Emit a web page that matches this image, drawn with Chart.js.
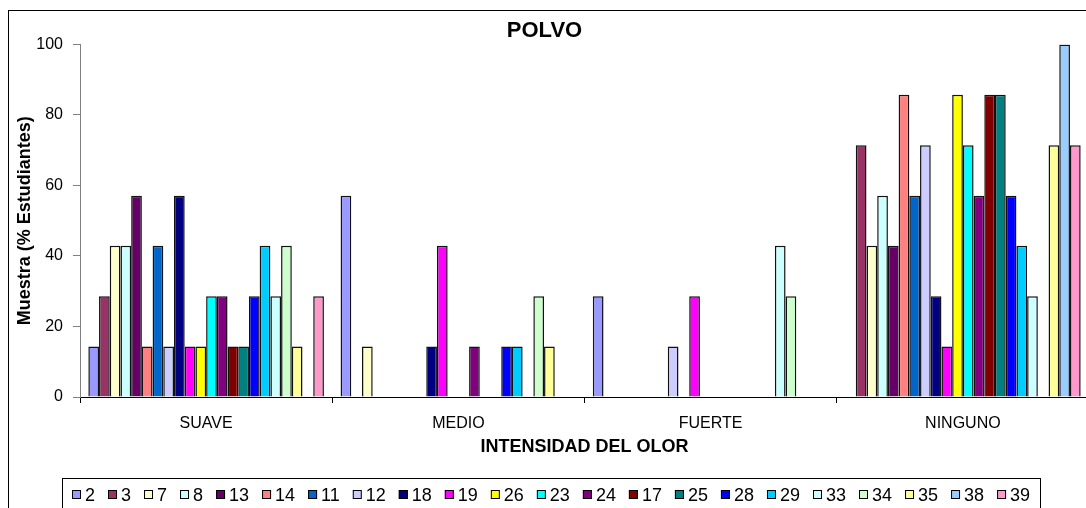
<!DOCTYPE html>
<html>
<head>
<meta charset="utf-8">
<script src="https://cdn.jsdelivr.net/npm/chart.js@4/dist/chart.umd.min.js"></script>
<style>
  html, body { margin: 0; padding: 0; background: #fff; overflow: hidden; }
  #wrap { width: 1095px; height: 520px; }
</style>
</head>
<body>
<div id="wrap"><canvas id="c" width="1095" height="520"></canvas></div>
<script>
// categorias del eje X
const categories = ["SUAVE", "MEDIO", "FUERTE", "NINGUNO"];

// numero de muestra (serie)
const seriesLabels = ["2", "3", "7", "8", "13", "14", "11", "12", "18", "19", "26",
  "23", "24", "17", "25", "28", "29", "33", "34", "35", "38", "39"];

// % de estudiantes por serie, una lista por categoria
const suave   = [14.3, 28.6, 42.9, 42.9, 57.1, 14.3, 42.9, 14.3, 57.1, 14.3, 14.3,
  28.6, 28.6, 14.3, 14.3, 28.6, 42.9, 28.6, 42.9, 14.3, 0, 28.6];
const medio   = [57.1, 0, 14.3, 0, 0, 0, 0, 0, 14.3, 42.9, 0,
  0, 14.3, 0, 0, 14.3, 14.3, 0, 28.6, 14.3, 0, 0];
const fuerte  = [28.6, 0, 0, 0, 0, 0, 0, 14.3, 0, 28.6, 0,
  0, 0, 0, 0, 0, 0, 42.9, 28.6, 0, 0, 0];
const ninguno = [0, 71.4, 42.9, 57.1, 42.9, 85.7, 57.1, 71.4, 28.6, 14.3, 85.7,
  71.4, 57.1, 85.7, 85.7, 57.1, 42.9, 28.6, 0, 71.4, 100, 71.4];

// ticks del eje Y
const yTicks = [0, 20, 40, 60, 80, 100];

// colores (paleta de Excel)
const colors = ["#9999FF", "#993366", "#FFFFCC", "#CCFFFF", "#660066", "#FF8080",
  "#0066CC", "#CCCCFF", "#000080", "#FF00FF", "#FFFF00", "#00FFFF", "#800080",
  "#800000", "#008080", "#0000FF", "#00CCFF", "#CCFFFF", "#CCFFCC", "#FFFF99",
  "#99CCFF", "#FF99CC"];

const FONT = "'Liberation Sans', Arial, sans-serif";

const datasets = seriesLabels.map((lab, i) => ({
  label: lab,
  data: [suave[i], medio[i], fuerte[i], ninguno[i]],
  backgroundColor: colors[i],
  borderColor: "#111",
  borderWidth: 1.5,
  borderSkipped: "bottom",
  categoryPercentage: 0.934,
  barPercentage: 1.0
}));

// marco exterior del grafico
const frame = {
  id: "frame",
  beforeDraw(chart) {
    const ctx = chart.ctx;
    ctx.save();
    ctx.fillStyle = "#fff";
    ctx.fillRect(0, 0, chart.width, chart.height);
    ctx.strokeStyle = "#000";
    ctx.lineWidth = 1;
    ctx.strokeRect(8.5, 10.5, 1200, 600);
    ctx.restore();
  }
};

// leyenda tipo Excel, en una sola fila con recuadro
const legendBox = {
  id: "legendBox",
  afterDraw(chart) {
    const ctx = chart.ctx;
    const box = { left: 62, top: 478, right: 1040 };
    const sq = 9, gapText = 4, gapItem = 13;
    ctx.save();
    ctx.font = "18px " + FONT;
    ctx.strokeStyle = "#000";
    ctx.lineWidth = 1;
    ctx.strokeRect(box.left + 0.5, box.top + 0.5, box.right - box.left, 100);

    const items = chart.data.datasets.map(ds => ({
      text: ds.label, color: ds.backgroundColor, w: ctx.measureText(ds.label).width
    }));
    let total = 0;
    items.forEach((it, i) => {
      total += sq + gapText + it.w + (i < items.length - 1 ? gapItem : 0);
    });
    let x = Math.round((box.left + box.right) / 2 - total / 2);
    const yMid = 495;
    ctx.textBaseline = "middle";
    items.forEach(it => {
      ctx.fillStyle = it.color;
      ctx.fillRect(x, yMid - 5, sq, sq);
      ctx.strokeStyle = "#000";
      ctx.strokeRect(x + 0.5, yMid - 4.5, sq - 1, sq - 1);
      x += sq + gapText;
      ctx.fillStyle = "#000";
      ctx.fillText(it.text, x, yMid + 1);
      x += it.w + gapItem;
    });
    ctx.restore();
  }
};

new Chart(document.getElementById("c"), {
  type: "bar",
  data: { labels: categories, datasets: datasets },
  options: {
    responsive: false,
    animation: false,
    layout: { padding: { left: 0, top: 18, right: 6, bottom: 58 } },
    plugins: {
      legend: { display: false },
      tooltip: { enabled: false },
      title: {
        display: true,
        text: "POLVO",
        color: "#000",
        font: { family: FONT, size: 22, weight: "bold", lineHeight: 1.2 },
        padding: { top: 0, bottom: 0 }
      }
    },
    scales: {
      x: {
        offset: true,
        grid: { offset: true, drawOnChartArea: false, tickLength: 6, color: "#000" },
        border: { color: "#000", width: 1 },
        ticks: { color: "#000", padding: 11, font: { family: FONT, size: 16 } },
        title: {
          display: true,
          text: "INTENSIDAD DEL OLOR",
          color: "#000",
          font: { family: FONT, size: 18, weight: "bold", lineHeight: 1.2 },
          padding: { top: 4, bottom: 4 }
        },
        afterFit(scale) { scale.height = 65; }
      },
      y: {
        min: 0,
        max: 100,
        grid: { drawOnChartArea: false, tickLength: 7, color: "#808080" },
        border: { color: "#808080", width: 1 },
        afterBuildTicks(scale) { scale.ticks = yTicks.map(v => ({ value: v })); },
        ticks: { color: "#000", padding: 10, font: { family: FONT, size: 16 } },
        title: {
          display: true,
          text: "Muestra (% Estudiantes)",
          color: "#000",
          font: { family: FONT, size: 18, weight: "bold", lineHeight: 1.2 },
          padding: { top: 14, bottom: 14 }
        },
        afterFit(scale) { scale.width = 80; }
      }
    }
  },
  plugins: [frame, legendBox]
});
</script>
</body>
</html>
